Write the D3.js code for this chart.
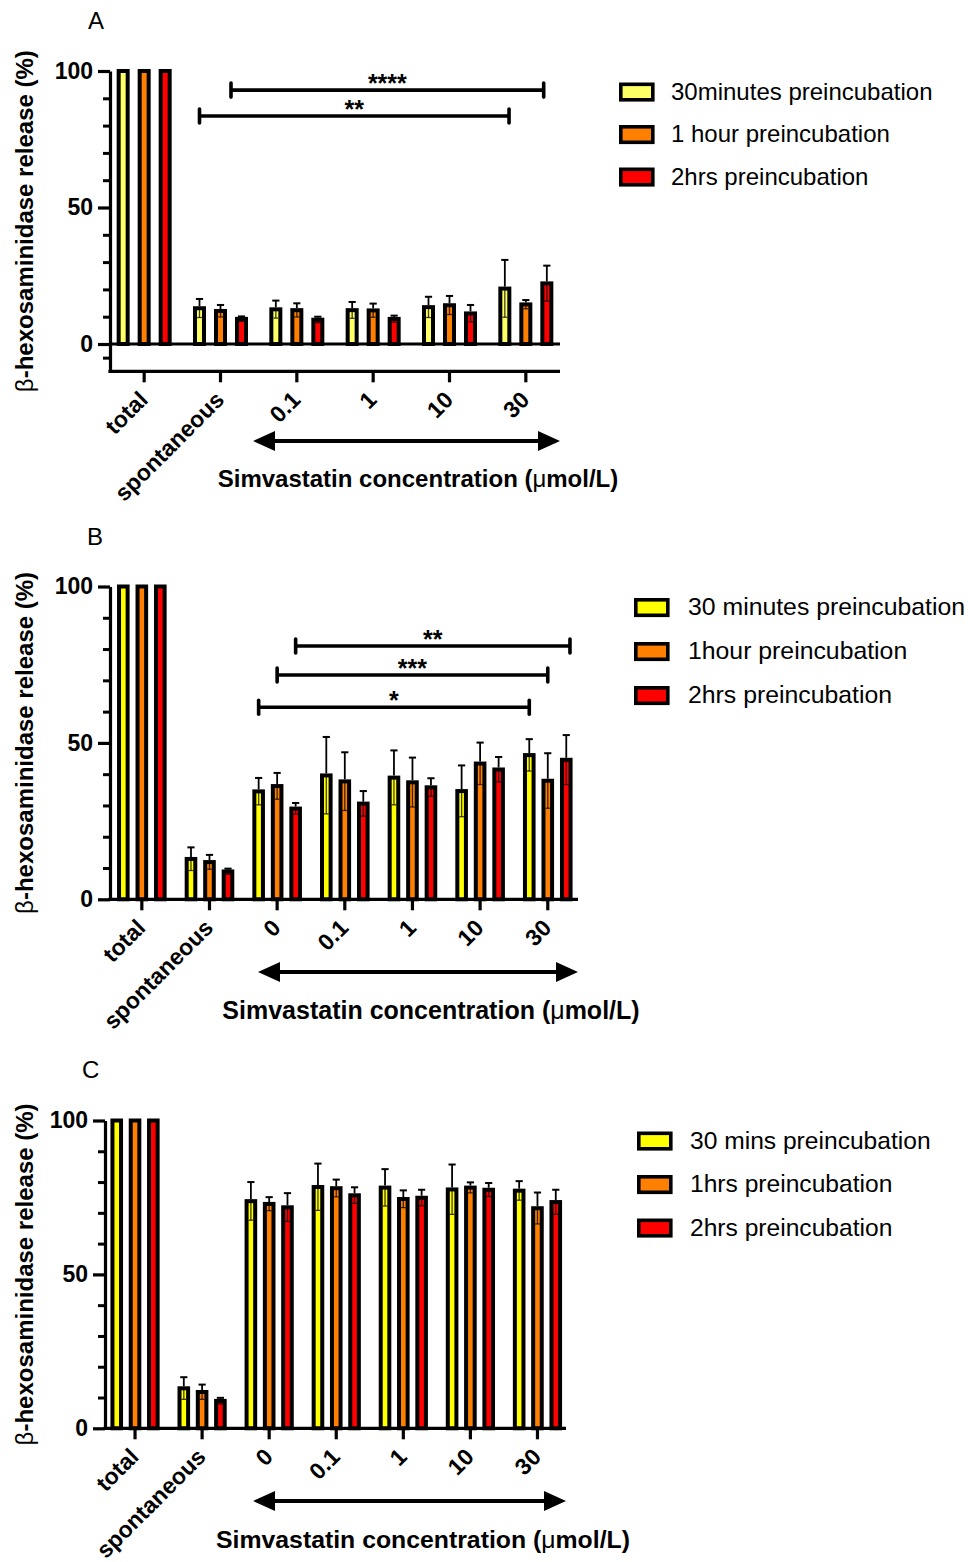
<!DOCTYPE html>
<html>
<head>
<meta charset="utf-8">
<script src="https://cdn.jsdelivr.net/npm/d3@7"></script>
<style>
  body { margin: 0; background: #fff; }
  svg { display: block; font-family: "Liberation Sans", Arial, sans-serif; }
</style>
</head>
<body>
<div id="chart"></div>
<script>
// ---- data ----
const catsA = ["total", "spontaneous", "0.1", "1", "10", "30"];
const catsBC = ["total", "spontaneous", "0", "0.1", "1", "10", "30"];

const seriesA = ["30minutes preincubation", "1 hour preincubation", "2hrs preincubation"];
const seriesB = ["30 minutes preincubation", "1hour preincubation", "2hrs preincubation"];
const seriesC = ["30 mins preincubation", "1hrs preincubation", "2hrs preincubation"];

// panel A
const meanA30m = [100, 13.1, 12.7, 12.4, 13.5, 20.3];
const sdA30m = [0, 3.4, 3.2, 3.0, 3.8, 10.5];
const meanA1h = [100, 12.1, 12.4, 12.3, 14.2, 14.5];
const sdA1h = [0, 2.2, 2.5, 2.5, 3.4, 1.6];
const meanA2h = [100, 9.2, 8.9, 9.2, 11.2, 22.2];
const sdA2h = [0, 0.9, 1.1, 1.2, 3.1, 6.5];

// panel B
const meanB30m = [100, 12.9, 34.5, 39.6, 38.9, 34.6, 46.1];
const sdB30m = [0, 3.7, 4.3, 12.3, 8.7, 8.2, 5.1];
const meanB1h = [100, 11.9, 36.2, 37.7, 37.4, 43.4, 37.9];
const sdB1h = [0, 2.3, 4.2, 9.3, 7.9, 6.7, 8.8];
const meanB2h = [100, 8.9, 29.0, 30.6, 35.8, 41.5, 44.6];
const sdB2h = [0, 0.9, 1.8, 4.0, 2.9, 4.0, 7.9];

// panel C
const meanC30m = [100, 13.0, 73.8, 78.4, 78.2, 77.6, 77.2];
const sdC30m = [0, 3.6, 6.2, 7.6, 6.0, 8.1, 3.1];
const meanC1h = [100, 11.8, 72.9, 78.0, 74.5, 78.2, 71.5];
const sdC1h = [0, 2.4, 2.2, 2.8, 2.8, 1.7, 5.1];
const meanC2h = [100, 8.9, 71.8, 75.7, 74.9, 77.5, 73.5];
const sdC2h = [0, 1.0, 4.6, 2.6, 2.6, 2.2, 4.0];

// significance brackets: category + series index at each end, height in %
const sigA = [
  { from: "spontaneous", fs: 0, to: "30", ts: 0.2, level: 83.5, label: "**" },
  { from: "spontaneous", fs: 1.5, to: "30", ts: 1.85, level: 93, label: "****" }
];
const sigB = [
  { from: "0", fs: 0, to: "30", ts: 0, level: 61.4, label: "*" },
  { from: "0", fs: 1, to: "30", ts: 1, level: 71.7, label: "***" },
  { from: "0", fs: 2, to: "30", ts: 2.2, level: 81, label: "**" }
];

const colorsA = ["#ffff66", "#ff8000", "#ff0000"];
const colorsBC = ["#ffff00", "#ff8000", "#ff0000"];

const yTitle = "hexosaminidase release (%)";
const xTitle = "Simvastatin concentration (";

const width = 968, height = 1562;
const svg = d3.select("#chart").append("svg")
  .attr("width", width).attr("height", height)
  .attr("viewBox", [0, 0, width, height]);

const panels = [
  {
    letter: "A", letterX: 88, letterY: 29,
    cats: catsA, series: seriesA, colors: colorsA,
    means: [meanA30m, meanA1h, meanA2h], sds: [sdA30m, sdA1h, sdA2h],
    sig: sigA,
    axisX: 110, axisEnd: 560, xRange: [106, 564],
    yDomain: [-10, 100], yRange: [371.3, 71], minor: [-5, 10, 20, 30, 40, 60, 70, 80, 90],
    barStep: 21, barW: 9,
    arrow: [253, 560, 441], titleX: 418, titleY: 487, titleSize: 24,
    legX: 619, legY: 82.5, legStep: 42.5, legTextX: 671, legSize: 24
  },
  {
    letter: "B", letterX: 87, letterY: 545,
    cats: catsBC, series: seriesB, colors: colorsBC,
    means: [meanB30m, meanB1h, meanB2h], sds: [sdB30m, sdB1h, sdB2h],
    sig: sigB,
    axisX: 110, axisEnd: 578, xRange: [108, 581.6],
    yDomain: [0, 100], yRange: [899.3, 586.5], minor: [10, 20, 30, 40, 60, 70, 80, 90],
    barStep: 18.5, barW: 8.6,
    arrow: [258, 578, 972], titleX: 431, titleY: 1019, titleSize: 25,
    legX: 634, legY: 598, legStep: 44, legTextX: 688, legSize: 24.8
  },
  {
    letter: "C", letterX: 82, letterY: 1078,
    cats: catsBC, series: seriesC, colors: colorsBC,
    means: [meanC30m, meanC1h, meanC2h], sds: [sdC30m, sdC1h, sdC2h],
    sig: [],
    axisX: 105, axisEnd: 566, xRange: [101.5, 571],
    yDomain: [0, 100], yRange: [1428.3, 1120.5], minor: [10, 20, 30, 40, 60, 70, 80, 90],
    barStep: 18.3, barW: 8.6,
    arrow: [253, 566, 1501], titleX: 423, titleY: 1548, titleSize: 24.8,
    legX: 637, legY: 1131.5, legStep: 43.5, legTextX: 690, legSize: 24.6
  }
];

function drawPanel(p) {
  const g = svg.append("g");
  const x = d3.scaleBand().domain(p.cats).range(p.xRange);
  const y = d3.scaleLinear().domain(p.yDomain).range(p.yRange);
  const barX = (cat, s) => x(cat) + x.bandwidth() / 2 + (s - 1) * p.barStep;
  const yBottom = y(p.yDomain[0]);
  const sw = 4;

  // bars + error bars
  p.series.forEach((name, si) => {
    const rows = p.cats.map((c, i) => ({ cat: c, mean: p.means[si][i], sd: p.sds[si][i] }));
    const bg = g.append("g");
    bg.selectAll("rect").data(rows).join("rect")
      .attr("x", d => barX(d.cat, si) - p.barW / 2)
      .attr("y", d => y(d.mean))
      .attr("width", p.barW)
      .attr("height", d => y(0) - y(d.mean))
      .attr("fill", p.colors[si])
      .attr("stroke", "#000")
      .attr("stroke-width", sw);

    const eb = rows.filter(d => d.sd > 0);
    // lower half, drawn inside the bar
    bg.selectAll(".lo").data(eb).join("line").attr("class", "lo")
      .attr("x1", d => barX(d.cat, si)).attr("x2", d => barX(d.cat, si))
      .attr("y1", d => y(d.mean)).attr("y2", d => y(d.mean - d.sd))
      .attr("stroke", "#000").attr("stroke-opacity", 0.75).attr("stroke-width", 1.3);
    bg.selectAll(".locap").data(eb).join("line").attr("class", "locap")
      .attr("x1", d => barX(d.cat, si) - 2.4).attr("x2", d => barX(d.cat, si) + 2.4)
      .attr("y1", d => y(d.mean - d.sd)).attr("y2", d => y(d.mean - d.sd))
      .attr("stroke", "#000").attr("stroke-opacity", 0.75).attr("stroke-width", 1.3);
    // upper half
    bg.selectAll(".hi").data(eb).join("line").attr("class", "hi")
      .attr("x1", d => barX(d.cat, si)).attr("x2", d => barX(d.cat, si))
      .attr("y1", d => y(d.mean) - sw / 2).attr("y2", d => y(d.mean + d.sd))
      .attr("stroke", "#000").attr("stroke-width", 1.8);
    bg.selectAll(".hicap").data(eb).join("line").attr("class", "hicap")
      .attr("x1", d => barX(d.cat, si) - 3.6).attr("x2", d => barX(d.cat, si) + 3.6)
      .attr("y1", d => y(d.mean + d.sd)).attr("y2", d => y(d.mean + d.sd))
      .attr("stroke", "#000").attr("stroke-width", 2);
  });

  // baseline at 0 (panel A has its x axis below zero)
  if (p.yDomain[0] < 0) {
    g.append("line")
      .attr("x1", p.axisX).attr("x2", p.axisEnd)
      .attr("y1", y(0)).attr("y2", y(0))
      .attr("stroke", "#000").attr("stroke-width", 3.2);
  }

  // y axis
  const yMinor = g.append("g").attr("transform", `translate(${p.axisX},0)`)
    .call(d3.axisLeft(y).tickValues(p.minor).tickSize(7).tickFormat(""));
  yMinor.select(".domain").remove();
  yMinor.selectAll("line").attr("stroke-width", 3);

  const yAx = g.append("g").attr("transform", `translate(${p.axisX},0)`)
    .call(d3.axisLeft(y).tickValues([0, 50, 100]).tickSize(12).tickSizeOuter(0).tickPadding(5));
  yAx.select(".domain").attr("stroke-width", 3.2);
  yAx.selectAll("line").attr("stroke-width", 3.2);
  yAx.selectAll("text")
    .attr("font-size", 23).attr("font-weight", "bold")
    .attr("font-family", "'Liberation Sans', Arial, sans-serif").attr("fill", "#000");

  // x axis
  const xAx = g.append("g").attr("transform", `translate(0,${yBottom})`)
    .call(d3.axisBottom(x).tickSize(11).tickSizeOuter(0));
  xAx.select(".domain").remove();
  xAx.selectAll("line").attr("stroke-width", 3.2);
  xAx.selectAll("text")
    .attr("x", 0).attr("y", 0).attr("dy", 0)
    .attr("transform", "translate(5,30) rotate(-45)")
    .attr("text-anchor", "end")
    .attr("font-size", 23).attr("font-weight", "bold")
    .attr("font-family", "'Liberation Sans', Arial, sans-serif").attr("fill", "#000");
  g.append("line")
    .attr("x1", p.axisX - 1.6).attr("x2", p.axisEnd)
    .attr("y1", yBottom).attr("y2", yBottom)
    .attr("stroke", "#000").attr("stroke-width", 3.2);

  // significance brackets
  const sg = g.append("g");
  p.sig.forEach(s => {
    const x1 = barX(s.from, s.fs), x2 = barX(s.to, s.ts), yy = y(s.level);
    sg.append("line").attr("x1", x1).attr("x2", x2).attr("y1", yy).attr("y2", yy)
      .attr("stroke", "#000").attr("stroke-width", 3.6);
    [x1, x2].forEach(xx => sg.append("line")
      .attr("x1", xx).attr("x2", xx).attr("y1", yy - 7).attr("y2", yy + 7)
      .attr("stroke", "#000").attr("stroke-width", 3.6).attr("stroke-linecap", "round"));
    sg.append("text").attr("x", (x1 + x2) / 2).attr("y", yy + 2)
      .attr("text-anchor", "middle").attr("font-size", 25).attr("font-weight", "bold")
      .text(s.label);
  });

  // y title
  const yt = g.append("text")
    .attr("transform", `translate(33,${(p.yRange[0] + p.yRange[1]) / 2}) rotate(-90)`)
    .attr("text-anchor", "middle").attr("font-size", 24).attr("font-weight", "bold");
  yt.append("tspan").attr("font-weight", "normal").text("β");
  yt.append("tspan").text("-" + yTitle);

  // concentration arrow
  const [ax1, ax2, ay] = p.arrow;
  const hl = 22, hh = 10;
  g.append("line").attr("x1", ax1 + hl - 2).attr("x2", ax2 - hl + 2).attr("y1", ay).attr("y2", ay)
    .attr("stroke", "#000").attr("stroke-width", 4);
  g.append("path")
    .attr("d", `M${ax1},${ay}L${ax1 + hl},${ay - hh}L${ax1 + hl},${ay + hh}Z M${ax2},${ay}L${ax2 - hl},${ay - hh}L${ax2 - hl},${ay + hh}Z`)
    .attr("fill", "#000");

  // x title
  const xt = g.append("text").attr("x", p.titleX).attr("y", p.titleY)
    .attr("text-anchor", "middle").attr("font-size", p.titleSize).attr("font-weight", "bold");
  xt.append("tspan").text(xTitle);
  xt.append("tspan").attr("font-weight", "normal").text("μ");
  xt.append("tspan").text("mol/L)");

  // panel letter
  g.append("text").attr("x", p.letterX).attr("y", p.letterY)
    .attr("font-size", 24).text(p.letter);

  // legend
  const lg = g.append("g");
  p.series.forEach((name, si) => {
    const ly = p.legY + si * p.legStep;
    lg.append("rect").attr("x", p.legX + 1.8).attr("y", ly + 1.8)
      .attr("width", 32).attr("height", 15.5)
      .attr("fill", p.colors[si]).attr("stroke", "#000").attr("stroke-width", 3.6);
    lg.append("text").attr("x", p.legTextX).attr("y", ly + 17)
      .attr("font-size", p.legSize).text(name);
  });
}

panels.forEach(drawPanel);
</script>
</body>
</html>
